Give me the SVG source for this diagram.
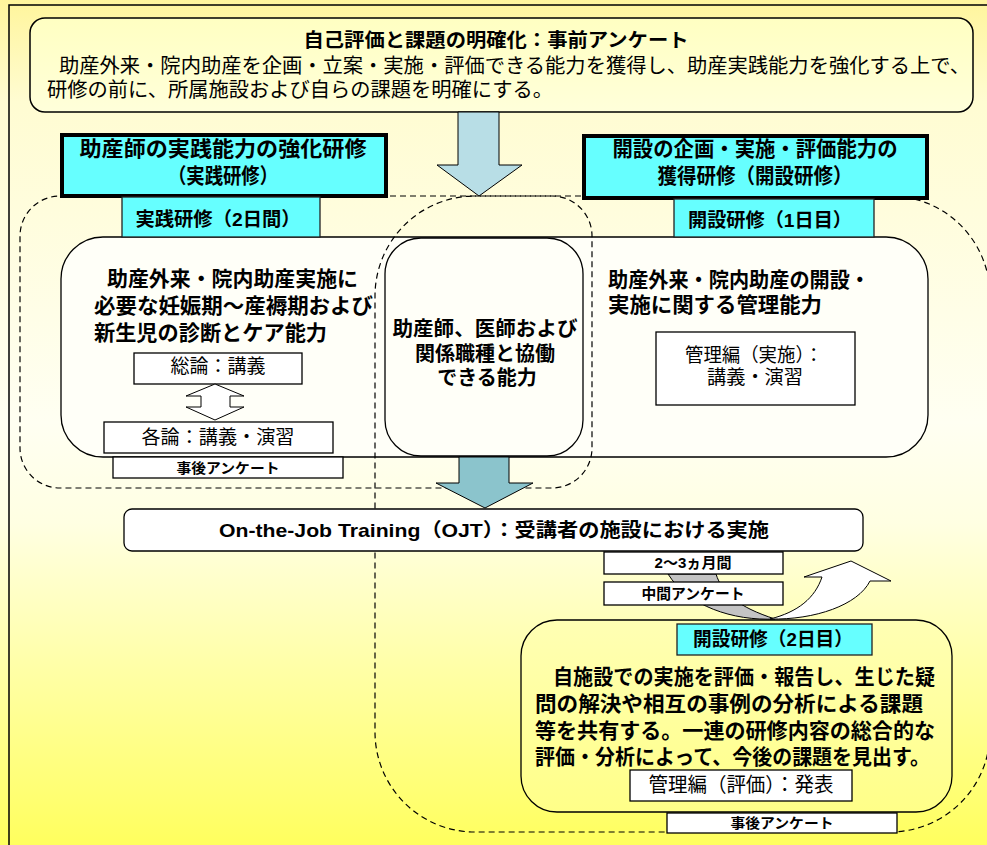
<svg xmlns="http://www.w3.org/2000/svg" width="987" height="845" viewBox="0 0 987 845">
<defs>
<linearGradient id="bg" x1="0" y1="0" x2="0" y2="1">
<stop offset="0" stop-color="#FFF59C"/>
<stop offset="0.12" stop-color="#FFFCD2"/>
<stop offset="0.5" stop-color="#FFFFF2"/>
<stop offset="0.62" stop-color="#FFFFE2"/>
<stop offset="1" stop-color="#FFFF5E"/>
</linearGradient>
<linearGradient id="topfill" x1="0" y1="0" x2="0" y2="1">
<stop offset="0" stop-color="#FFFFC2"/>
<stop offset="1" stop-color="#FFFFDA"/>
</linearGradient>
<linearGradient id="botfill" x1="0" y1="0" x2="0" y2="1">
<stop offset="0" stop-color="#FFFFB4"/>
<stop offset="1" stop-color="#FFFF88"/>
</linearGradient>
<style>
text{font-family:"Liberation Sans","Noto Sans CJK JP","Noto Sans CJK SC",sans-serif;fill:#000}
.b{font-weight:bold}
.c{text-anchor:middle}
.dash{fill:none;stroke:#000;stroke-width:1.2;stroke-dasharray:6 4}
.box{fill:#FFFFFF;stroke:#000;stroke-width:1.3}
.cyan{fill:#66FFFF;stroke:#222;stroke-width:1.3}
.cyanT{fill:#66FFFF;stroke:#000;stroke-width:4}
.arr{stroke:#000;stroke-width:1}
</style>
</defs>
<rect x="0" y="0" width="987" height="845" fill="url(#bg)"/>
<rect x="9" y="5" width="1000" height="900" fill="none" stroke="#000" stroke-width="1.5"/>

<g id="top-box">
<rect x="30" y="18" width="943" height="94" rx="15" fill="url(#topfill)" stroke="#000" stroke-width="1.5"/>
<text class="b c" x="496" y="47" font-size="19" textLength="385" lengthAdjust="spacingAndGlyphs">自己評価と課題の明確化：事前アンケート</text>
<text x="59" y="73" font-size="20" textLength="911" lengthAdjust="spacingAndGlyphs">助産外来・院内助産を企画・立案・実施・評価できる能力を獲得し、助産実践能力を強化する上で、</text>
<text x="47" y="97" font-size="20" textLength="506" lengthAdjust="spacingAndGlyphs">研修の前に、所属施設および自らの課題を明確にする。</text>
</g>

<g id="big-panel">
<rect x="61" y="237" width="867" height="220" rx="42" fill="#FFFFF8" stroke="#000" stroke-width="1.3"/>
</g>

<g id="dashed-regions">
<rect class="dash" x="20" y="196" width="572" height="292" rx="40"/>
<rect class="dash" x="375" y="196" width="615" height="636" rx="100"/>
</g>

<g id="center-box">
<rect x="385" y="238" width="198" height="218" rx="36" fill="#FFFFF8" stroke="#000" stroke-width="1.3"/>
<text class="b c" x="485" y="336" font-size="20" textLength="185" lengthAdjust="spacingAndGlyphs">助産師、医師および</text>
<text class="b c" x="485" y="361" font-size="20">関係職種と協働</text>
<text class="b c" x="487" y="385" font-size="20">できる能力</text>
</g>

<g id="left-content">
<text x="107" y="286" class="b" font-size="21" textLength="251" lengthAdjust="spacingAndGlyphs">助産外来・院内助産実施に</text>
<text x="94" y="313" class="b" font-size="21" textLength="279" lengthAdjust="spacingAndGlyphs">必要な妊娠期～産褥期および</text>
<text x="94" y="340" class="b" font-size="21" textLength="233" lengthAdjust="spacingAndGlyphs">新生児の診断とケア能力</text>
</g>

<g id="soron">
<rect class="box" x="134" y="353" width="168" height="31"/>
<text class="c" x="218" y="373" font-size="19">総論：講義</text>
</g>

<g id="kakuron">
<rect class="box" x="104" y="422" width="229" height="31"/>
<text class="c" x="218" y="444" font-size="19" textLength="153" lengthAdjust="spacingAndGlyphs">各論：講義・演習</text>
</g>

<g id="post-survey-1">
<rect class="box" x="113" y="457" width="230" height="21"/>
<text class="b c" x="228" y="473" font-size="14" textLength="103" lengthAdjust="spacingAndGlyphs">事後アンケート</text>
</g>

<g id="right-content">
<text x="608" y="287" class="b" font-size="21" textLength="262" lengthAdjust="spacingAndGlyphs">助産外来・院内助産の開設・</text>
<text x="608" y="312" class="b" font-size="21" textLength="214" lengthAdjust="spacingAndGlyphs">実施に関する管理能力</text>
</g>

<g id="kanri-jisshi">
<rect class="box" x="656" y="332" width="199" height="73"/>
<text class="c" x="754" y="362" font-size="19" textLength="138" lengthAdjust="spacingAndGlyphs">管理編（実施）：</text>
<text class="c" x="755" y="384" font-size="19" textLength="96" lengthAdjust="spacingAndGlyphs">講義・演習</text>
</g>

<g id="ojt">
<rect x="124" y="509" width="739" height="42" rx="8" fill="#FFFFFF" stroke="#000" stroke-width="1.3"/>
<text class="b c" x="494" y="537" font-size="19" textLength="550" lengthAdjust="spacingAndGlyphs">On-the-Job Training（OJT）：受講者の施設における実施</text>
</g>

<g id="connectors">
<polygon class="arr" fill="#B8DEE6" points="458,112 499,112 499,165 522,165 479,196 437,165 458,165"/>
<polygon class="arr" fill="#8BC4CC" points="459,457 509,457 509,483 533,483 485,508 436,483 459,483"/>
<polygon fill="#FFFFFF" stroke="#000" stroke-width="1" points="215,384 244,396 230,396 230,407 244,407 215,420 186,407 201,407 201,396 186,396"/>
<path fill="#C4C4C4" stroke="#000" stroke-width="1" d="M668,574 L716,574 C722,593 738,607 775,619 C733,621 688,606 668,574 Z"/>
<path fill="#FFFFFF" stroke="#000" stroke-width="1" d="M770,619 C815,620 858,605 870,581 L891,581 L851,561 L804,577 L822,577 C815,598 798,612 770,619 Z"/>
</g>

<g id="months">
<rect class="box" x="604" y="552" width="179" height="22"/>
<text class="b c" x="693" y="568" font-size="15" textLength="77" lengthAdjust="spacingAndGlyphs">2～3ヵ月間</text>
</g>

<g id="mid-survey">
<rect class="box" x="604" y="582" width="179" height="23"/>
<text class="b c" x="693" y="599" font-size="15" textLength="103" lengthAdjust="spacingAndGlyphs">中間アンケート</text>
</g>

<g id="bottom-box">
<rect x="521" y="620" width="431" height="192" rx="36" fill="url(#botfill)" stroke="#000" stroke-width="1.3"/>
<text x="553" y="684" class="b" font-size="21" textLength="382" lengthAdjust="spacingAndGlyphs">自施設での実施を評価・報告し、生じた疑</text>
<text x="535" y="711" class="b" font-size="21" textLength="388" lengthAdjust="spacingAndGlyphs">問の解決や相互の事例の分析による課題</text>
<text x="535" y="738" class="b" font-size="21" textLength="400" lengthAdjust="spacingAndGlyphs">等を共有する。一連の研修内容の総合的な</text>
<text x="535" y="764" class="b" font-size="21" textLength="395" lengthAdjust="spacingAndGlyphs">評価・分析によって、今後の課題を見出す。</text>
</g>

<g id="kaisetsu-day2">
<rect class="cyan" x="677" y="624" width="195" height="31"/>
<text class="b c" x="773" y="646" font-size="19" textLength="160" lengthAdjust="spacingAndGlyphs">開設研修（2日目）</text>
</g>

<g id="kanri-hyoka">
<rect class="box" x="630" y="770" width="222" height="31"/>
<text class="c" x="741" y="792" font-size="20" textLength="185" lengthAdjust="spacingAndGlyphs">管理編（評価）：発表</text>
</g>

<g id="post-survey-2">
<rect class="box" x="667" y="813" width="230" height="20"/>
<text class="b c" x="782" y="828" font-size="14" textLength="103" lengthAdjust="spacingAndGlyphs">事後アンケート</text>
</g>

<g id="jissen-title">
<rect class="cyanT" x="62" y="135" width="324" height="61"/>
<text class="b c" x="223" y="156" font-size="21" textLength="287" lengthAdjust="spacingAndGlyphs">助産師の実践能力の強化研修</text>
<text class="b c" x="223" y="183" font-size="21" textLength="110" lengthAdjust="spacingAndGlyphs">（実践研修）</text>
</g>

<g id="jissen-2days">
<rect class="cyan" x="122" y="197" width="198" height="40"/>
<text class="b c" x="218" y="226" font-size="19" textLength="165" lengthAdjust="spacingAndGlyphs">実践研修（2日間）</text>
</g>

<g id="kaisetsu-title">
<rect class="cyanT" x="584" y="136" width="343" height="62"/>
<text class="b c" x="755" y="156" font-size="21" textLength="285" lengthAdjust="spacingAndGlyphs">開設の企画・実施・評価能力の</text>
<text class="b c" x="755" y="183" font-size="21" textLength="195" lengthAdjust="spacingAndGlyphs">獲得研修（開設研修）</text>
</g>

<g id="kaisetsu-day1">
<rect class="cyan" x="674" y="199" width="200" height="38"/>
<text class="b c" x="770" y="227" font-size="19" textLength="164" lengthAdjust="spacingAndGlyphs">開設研修（1日目）</text>
</g>
</svg>
